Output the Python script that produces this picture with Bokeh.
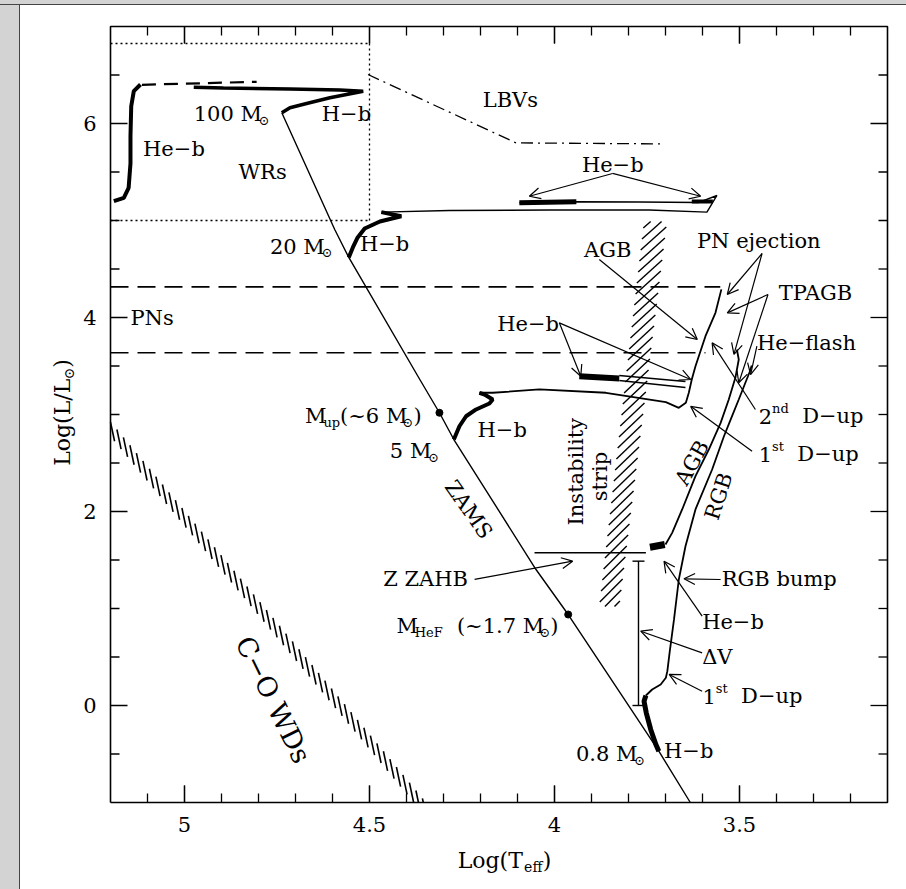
import numpy as np
from bokeh.plotting import figure
from bokeh.models import ColumnDataSource, Range1d, Arrow, OpenHead, Spacer
from bokeh.layouts import row, column
from bokeh.embed import file_html
from bokeh.resources import INLINE
from bokeh.core.properties import value

FONT = "DejaVu Serif"

# ---------------- data (log Teff, log L/Lsun) ----------------
zams_t = [4.737, 4.594, 4.556, 4.364, 4.311, 4.272, 4.050, 3.963, 3.718, 3.633]
zams_l = [6.110, 4.907, 4.619, 3.361, 3.018, 2.742, 1.402, 0.938, -0.471, -1.0]
mark_t = [4.311, 3.963]
mark_l = [3.018, 0.938]

m100_hb_t = [4.737, 4.715, 4.670, 4.607, 4.517, 4.580, 4.715, 4.895, 4.975]
m100_hb_l = [6.110, 6.162, 6.206, 6.265, 6.333, 6.345, 6.356, 6.366, 6.374]
m100_dash_t = [5.115, 4.805]
m100_dash_l = [6.399, 6.430]
m100_heb_t = [5.119, 5.137, 5.144, 5.146, 5.146, 5.151, 5.164, 5.191]
m100_heb_l = [6.402, 6.333, 6.178, 5.869, 5.588, 5.337, 5.234, 5.199]

m20_hb_t = [4.556, 4.545, 4.532, 4.513, 4.472, 4.414, 4.468]
m20_hb_l = [4.619, 4.722, 4.825, 4.918, 4.990, 5.044, 5.086]
m20_cross_t = [4.468, 4.284, 4.014, 3.744, 3.588, 3.561, 3.610, 3.771, 3.941, 4.095]
m20_cross_l = [5.086, 5.103, 5.108, 5.108, 5.086, 5.258, 5.186, 5.191, 5.193, 5.182]
m20_heb_t = [4.095, 3.941]
m20_heb_l = [5.182, 5.193]
m20_heb2_t = [3.629, 3.572]
m20_heb2_l = [5.196, 5.196]

m5_hb_t = [4.272, 4.257, 4.239, 4.212, 4.176, 4.167, 4.189, 4.203]
m5_hb_l = [2.742, 2.879, 2.982, 3.052, 3.113, 3.155, 3.206, 3.224]
m5_cross_t = [4.203, 4.167, 4.041, 3.861, 3.699, 3.664, 3.645, 3.637, 3.629, 3.619, 3.592, 3.565, 3.549]
m5_cross_l = [3.224, 3.224, 3.258, 3.224, 3.127, 3.069, 3.121, 3.224, 3.361, 3.498, 3.807, 4.048, 4.290]
m5_heb_t = [3.933, 3.825]
m5_heb_l = [3.395, 3.371]
m5_loop_up_t = [3.825, 3.646]
m5_loop_up_l = [3.402, 3.340]
m5_loop_lo_t = [3.825, 3.646]
m5_loop_lo_l = [3.351, 3.278]

ms_thick_t = [3.718, 3.726, 3.740, 3.752, 3.758, 3.753]
ms_thick_l = [-0.471, -0.402, -0.247, -0.075, 0.044, 0.103]
rgb_t = [3.753, 3.736, 3.713, 3.699, 3.695, 3.689, 3.677, 3.664, 3.646, 3.619, 3.574,
         3.542, 3.524, 3.502, 3.486, 3.472, 3.467]
rgb_l = [0.103, 0.165, 0.216, 0.286, 0.354, 0.543, 0.887, 1.299, 1.642, 2.021, 2.433,
         2.776, 2.948, 3.155, 3.309, 3.443, 3.505]
agb_t = [3.700, 3.682, 3.655, 3.619, 3.583, 3.551, 3.529, 3.511, 3.502, 3.507]
agb_l = [1.660, 1.780, 2.021, 2.364, 2.639, 2.914, 3.155, 3.381, 3.567, 3.670]
clump_t = [3.742, 3.702]
clump_l = [1.632, 1.660]

zahb_t = [4.054, 3.753]
zahb_l = [1.574, 1.574]
dv_t = 3.773
dv_l = [0.0, 1.488]

strip_l = [1.02, 4.99]
strip_left_t = [3.879, 3.758]
strip_right_t = [3.825, 3.696]

pn_lines_l = [4.316, 3.636]
pn_lines_end_t = [3.552, 3.592]

wr_top_l = 6.825
wr_bot_l = 5.0
wr_edge_t = 4.5

lbv_t = [4.504, 4.104, 3.713]
lbv_l = [6.505, 5.800, 5.790]

wd_start = (5.200, 2.85)
wd_end = (4.364, -1.0)

x_major = [5, 4.5, 4, 3.5]
x_minor_step = 0.1
y_major = [0, 2, 4, 6]
y_minor_step = 0.5

# ---------------- geometry ----------------
X0, X1, Y0, Y1 = 5.2, 3.1, -1.0, 7.0          # plotted box
W, H = 886, 884
BL, BR, BT, BB = 90, 19, 21, 87                # box position inside the canvas
PXX = (W - BL - BR) / (X0 - X1)
PXY = (H - BT - BB) / (Y1 - Y0)

p = figure(width=W, height=H,
           x_range=Range1d(X0 + BL / PXX, X1 - BR / PXX),
           y_range=Range1d(Y0 - BB / PXY, Y1 + BT / PXY),
           x_axis_type=None, y_axis_type=None,
           output_backend="svg", toolbar_location=None, min_border=0)
p.grid.visible = False
p.outline_line_color = None
p.border_fill_color = "white"
p.background_fill_color = "white"

# box
p.line([X0, X1, X1, X0, X0], [Y0, Y0, Y1, Y1, Y0], line_color="black", line_width=1.6)

# ticks on all four sides (pointing inwards)
MAJ, MIN = 17, 9
tx, ty = [], []
xminor = [round(v, 1) for v in np.arange(X1 + x_minor_step, X0 - 1e-6, x_minor_step)]
for v in xminor + x_major:
    ln = MAJ if any(abs(v - m) < 1e-6 for m in x_major) else MIN
    tx += [[v, v], [v, v]]
    ty += [[Y0, Y0 + ln / PXY], [Y1, Y1 - ln / PXY]]
yminor = [round(v, 1) for v in np.arange(Y0 + y_minor_step, Y1 - 1e-6, y_minor_step)]
for v in yminor:
    ln = MAJ if any(abs(v - m) < 1e-6 for m in y_major) else MIN
    tx += [[X0, X0 - ln / PXX], [X1, X1 + ln / PXX]]
    ty += [[v, v], [v, v]]
p.multi_line(tx, ty, line_color="black", line_width=1.3)

# tick labels
p.text(x=x_major, y=[Y0 - 14 / PXY] * len(x_major), text=[f"{v:g}" for v in x_major],
       text_font=value(FONT), text_font_size="21px", text_align="center",
       text_baseline="top", text_color="black")
p.text(x=[X0 + 14 / PXX] * len(y_major), y=y_major, text=[f"{v:g}" for v in y_major],
       text_font=value(FONT), text_font_size="21px", text_align="right",
       text_baseline="middle", text_color="black")

THIN = 1.4

# ZAMS
p.line(zams_t, zams_l, line_color="black", line_width=THIN)
p.scatter(mark_t, mark_l, size=7, color="black")

# 100 Msun
p.line(m100_hb_t, m100_hb_l, line_color="black", line_width=3.5)
p.line(m100_dash_t, m100_dash_l, line_color="black", line_width=2.2, line_dash="14 8")
p.line(m100_heb_t, m100_heb_l, line_color="black", line_width=4)

# 20 Msun
p.line(m20_hb_t, m20_hb_l, line_color="black", line_width=4)
p.line(m20_cross_t, m20_cross_l, line_color="black", line_width=THIN)
p.line(m20_heb_t, m20_heb_l, line_color="black", line_width=5)
p.line(m20_heb2_t, m20_heb2_l, line_color="black", line_width=4)

# 5 Msun
p.line(m5_hb_t, m5_hb_l, line_color="black", line_width=4)
p.line(m5_cross_t, m5_cross_l, line_color="black", line_width=THIN + 0.4)
p.line(m5_heb_t, m5_heb_l, line_color="black", line_width=6)
p.line(m5_loop_up_t, m5_loop_up_l, line_color="black", line_width=THIN)
p.line(m5_loop_lo_t, m5_loop_lo_l, line_color="black", line_width=THIN)

# low mass
p.line(ms_thick_t, ms_thick_l, line_color="black", line_width=5)
p.line(rgb_t, rgb_l, line_color="black", line_width=THIN + 0.4)
p.line(agb_t, agb_l, line_color="black", line_width=THIN + 0.4)
p.line(clump_t, clump_l, line_color="black", line_width=7)

# ZAHB and Delta V
p.line(zahb_t, zahb_l, line_color="black", line_width=THIN)
p.line([dv_t, dv_t], dv_l, line_color="black", line_width=THIN)
serif = 6 / PXX
p.multi_line([[dv_t + serif, dv_t - serif]] * 2, [[dv_l[0]] * 2, [dv_l[1]] * 2],
             line_color="black", line_width=THIN)

# PN dashed lines
p.multi_line([[X0, e] for e in pn_lines_end_t], [[v, v] for v in pn_lines_l],
             line_color="black", line_width=1.6, line_dash="18 9")

# WR dotted box
p.multi_line([[X0, wr_edge_t], [wr_edge_t, wr_edge_t], [X0, wr_edge_t]],
             [[wr_top_l, wr_top_l], [wr_top_l, wr_bot_l], [wr_bot_l, wr_bot_l]],
             line_color="black", line_width=1.3, line_dash="2 3")

# LBV dash-dot
p.line(lbv_t, lbv_l, line_color="black", line_width=1.3, line_dash="12 5 2 5")


# instability strip hatching
def xl(y):
    return strip_left_t[0] + (y - strip_l[0]) * (strip_left_t[1] - strip_left_t[0]) / (strip_l[1] - strip_l[0])


def xr(y):
    return strip_right_t[0] + (y - strip_l[0]) * (strip_right_t[1] - strip_right_t[0]) / (strip_l[1] - strip_l[0])


hh = 23 / PXY
step = 11 / PXY
hx, hy = [], []
for ys in np.arange(strip_l[0] - hh + step * 0.5, strip_l[1], step):
    ax_, ay_ = xl(ys), ys
    bx_, by_ = xr(ys + hh), ys + hh
    t0 = max(0.0, (strip_l[0] - ay_) / hh)
    t1 = min(1.0, (strip_l[1] - ay_) / hh)
    if t1 - t0 < 0.15:
        continue
    hx.append([ax_ + t0 * (bx_ - ax_), ax_ + t1 * (bx_ - ax_)])
    hy.append([ay_ + t0 * hh, ay_ + t1 * hh])
p.multi_line(hx, hy, line_color="black", line_width=1.4)

# white dwarf band hatching (short steep strokes along the band)
sx0 = (X0 - wd_start[0]) * PXX
sy0 = (Y1 - wd_start[1]) * PXY
sx1 = (X0 - wd_end[0]) * PXX
sy1 = (Y1 - wd_end[1]) * PXY
L = 20.0
ang = np.deg2rad(78)
wx, wy = [], []
for cx in np.arange(sx0 + 2, sx1 + 12, 6.5):
    cy = sy0 + (cx - sx0) * (sy1 - sy0) / (sx1 - sx0)
    ex, ey = 0.5 * L * np.cos(ang), 0.5 * L * np.sin(ang)
    xs_ = [X0 - v / PXX for v in (cx - ex, cx + ex)]
    ys_ = [Y1 - v / PXY for v in (cy - ey, cy + ey)]
    if ys_[1] < Y0:
        f = (Y0 - ys_[0]) / (ys_[1] - ys_[0])
        if f <= 0.1:
            continue
        xs_[1] = xs_[0] + f * (xs_[1] - xs_[0])
        ys_[1] = Y0
    if xs_[0] > X0:
        f = (xs_[0] - X0) / (xs_[0] - xs_[1])
        if f >= 0.9:
            continue
        ys_[0] = ys_[0] + f * (ys_[1] - ys_[0])
        xs_[0] = X0
    wx.append(xs_)
    wy.append(ys_)
p.multi_line(wx, wy, line_color="black", line_width=1.6)

# ---------------- arrows ----------------
arrows = [
    ((3.843, 5.485), (4.068, 5.250)),
    ((3.843, 5.485), (3.605, 5.250)),
    ((3.879, 4.598), (3.614, 3.773)),
    ((3.987, 3.945), (3.929, 3.395)),
    ((3.987, 3.945), (3.632, 3.361)),
    ((3.439, 4.660), (3.533, 4.237)),
    ((3.439, 4.660), (3.515, 3.619)),
    ((3.423, 4.237), (3.533, 4.048)),
    ((3.423, 4.237), (3.502, 3.327)),
    ((3.453, 3.704), (3.470, 3.412)),
    ((3.457, 3.052), (3.574, 3.739)),
    ((3.466, 2.622), (3.632, 3.084)),
    ((4.216, 1.300), (3.951, 1.488)),
    ((3.551, 1.299), (3.650, 1.306)),
    ((3.601, 0.921), (3.704, 1.488)),
    ((3.601, 0.543), (3.767, 0.766)),
    ((3.601, 0.147), (3.690, 0.320)),
]
asrc = ColumnDataSource(dict(x0=[a[0][0] for a in arrows], y0=[a[0][1] for a in arrows],
                             x1=[a[1][0] for a in arrows], y1=[a[1][1] for a in arrows]))
p.add_layout(Arrow(end=OpenHead(size=11, line_width=1.2, line_color="black"),
                   x_start="x0", y_start="y0", x_end="x1", y_end="y1", source=asrc,
                   line_width=1.2, line_color="black"))

# ---------------- texts ----------------
ADV = {' ': 0.318, '.': 0.318, '(': 0.390, ')': 0.390, '~': 0.76, 'M': 0.87, 'u': 0.644,
       'p': 0.640, 'H': 0.872, 'e': 0.592, 'F': 0.748, '−': 0.838, 'D': 0.832, 's': 0.514,
       't': 0.402, 'n': 0.644, 'd': 0.640, '⊙': 0.838, 'L': 0.653, 'o': 0.602, 'g': 0.640,
       '/': 0.337, 'T': 0.735, 'f': 0.370}
for c in "0123456789":
    ADV[c] = 0.636


def tw(s, size):
    return sum(ADV.get(c, 0.62) for c in s) * size


T = dict(x=[], y=[], text=[], size=[], xo=[])


def add_pieces(x, y, pieces, start):
    off = start
    for s, sz, dy in pieces:
        lead = len(s) - len(s.lstrip(" "))
        T["x"].append(x)
        T["y"].append(y + dy / PXY)
        T["text"].append(s.lstrip(" "))
        T["size"].append(f"{sz}px")
        T["xo"].append(off + tw(s[:lead], sz))
        off += tw(s, sz)


def rich(x, y, pieces):
    add_pieces(x, y, pieces, 0.0)


S, s2 = 21, 13
MSUN = [("⊙", s2, -6)]
rich(4.975, 6.093, [("100 M", S, 0)] + MSUN)
rich(4.629, 6.093, [("H−b", S, 0)])
rich(5.112, 5.742, [("He−b", S, 0)])
rich(4.854, 5.500, [("WRs", S, 0)])
rich(4.194, 6.247, [("LBVs", S, 0)])
rich(3.926, 5.577, [("He−b", S, 0)])
rich(4.769, 4.730, [("20 M", S, 0)] + MSUN)
rich(4.526, 4.760, [("H−b", S, 0)])
rich(5.146, 4.000, [("PNs", S, 0)])
rich(3.920, 4.700, [("AGB", S, 0)])
rich(3.615, 4.790, [("PN ejection", S, 0)])
rich(3.394, 4.255, [("TPAGB", S, 0)])
rich(3.453, 3.739, [("He−flash", S, 0)])
rich(4.155, 3.930, [("He−b", S, 0)])
rich(3.448, 2.983, [("2", S, 0), ("nd", s2, 8), ("  D−up", S, 0)])
rich(3.448, 2.588, [("1", S, 0), ("st", s2, 8), ("  D−up", S, 0)])
rich(4.674, 2.983, [("M", S, 0), ("up", s2, -6), ("(~6 M", S, 0)] + MSUN + [(")", S, 0)])
rich(4.445, 2.620, [("5 M", S, 0)] + MSUN)
rich(4.208, 2.837, [("H−b", S, 0)])
rich(4.463, 1.300, [("Z ZAHB", S, 0)])
rich(3.548, 1.300, [("RGB  bump", S, 0)])
rich(3.601, 0.861, [("He−b", S, 0)])
rich(3.601, 0.500, [("ΔV", S, 0)])
rich(3.600, 0.096, [("1", S, 0), ("st", s2, 8), ("  D−up", S, 0)])
rich(3.942, -0.505, [("0.8 M", S, 0)] + MSUN)
rich(3.704, -0.471, [("H−b", S, 0)])
rich(4.427, 0.818, [("M", S, 0), ("HeF", s2, -6), ("  (~1.7 M", S, 0)] + MSUN + [(")", S, 0)])

# x axis title (centred) with subscript
AX, AXS = 22, 14
xt_pieces = [("Log(T", AX, 0), ("eff", AXS, -6), (")", AX, 0)]
tot = sum(tw(s, z) for s, z, _ in xt_pieces)
add_pieces(X0 - (504 - 110) / PXX, Y0 - 58 / PXY, xt_pieces, -tot / 2)

p.text(x="x", y="y", text="text", source=ColumnDataSource(T), x_offset="xo",
       text_font=value(FONT), text_font_size="size", text_align="left",
       text_baseline="middle", text_color="black")

# rotated texts
R = dict(x=[4.232, 3.941, 3.877, 3.628, 3.556, 4.760],
         y=[2.020, 2.410, 2.360, 2.502, 2.158, 0.060],
         text=["ZAMS", "Instability", "strip", "AGB", "RGB", "C−O WDs"],
         size=["21px", "21px", "21px", "21px", "21px", "27px"],
         angle=list(np.deg2rad([-55, 90, 90, 61, 72, -64])))
p.text(x="x", y="y", text="text", angle="angle", source=ColumnDataSource(R),
       text_font=value(FONT), text_font_size="size", text_align="center",
       text_baseline="middle", text_color="black")

# y axis title (rotated, built from pieces)
yt_pieces = [("Log(L/L", AX, 0), ("⊙", AXS, -6), (")", AX, 0)]
tot = sum(tw(s, z) for s, z, _ in yt_pieces)
yx = X0 + (110 - 62) / PXX
ycen = (706 - 413) / PXY
off = -tot / 2
Yt = dict(x=[], y=[], text=[], size=[])
for s, z, dy in yt_pieces:
    Yt["x"].append(yx + dy / PXX)
    Yt["y"].append(ycen + off / PXY)
    Yt["text"].append(s)
    Yt["size"].append(f"{z}px")
    off += tw(s, z)
p.text(x="x", y="y", text="text", angle=np.pi / 2, source=ColumnDataSource(Yt),
       text_font=value(FONT), text_font_size="size", text_align="left",
       text_baseline="middle", text_color="black")

GRAY = "#d3d3d3"
DARK = "#444444"
layout = column(
    Spacer(width=906, height=4, styles={"background-color": GRAY}),
    Spacer(width=906, height=1, styles={"background-color": DARK}),
    row(Spacer(width=19, height=H, styles={"background-color": GRAY}),
        Spacer(width=1, height=H, styles={"background-color": DARK}),
        p),
)

open("out.html", "w").write(file_html(layout, INLINE, "HR diagram"))
